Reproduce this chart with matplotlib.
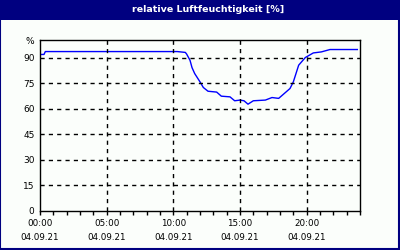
import matplotlib
matplotlib.use('Agg')
import matplotlib.pyplot as plt
from matplotlib.patches import Rectangle

# hours since midnight and humidity readings
hours = [0.0, 0.3, 0.4, 5.0, 10.0, 10.3, 10.9, 11.0, 11.25, 11.4, 11.6, 12.0, 12.25,
         12.6, 13.25, 13.6, 14.25, 14.6, 15.0, 15.3, 15.6, 16.0, 16.9, 17.4, 17.9,
         18.75, 19.0, 19.4, 19.9, 20.5, 21.1, 21.75, 23.8]
humidity = [91.8, 91.8, 93.5, 93.5, 93.5, 93.5, 93.0, 92.0, 88.4, 84.1, 80.6, 75.7, 72.4,
            70.2, 69.7, 67.3, 66.9, 64.6, 65.0, 64.6, 62.6, 64.6, 65.0, 66.5, 66.0,
            71.8, 75.7, 85.5, 90.0, 92.7, 93.3, 94.7, 94.7]

y_ticks = [0, 15, 30, 45, 60, 75, 90, 100]
y_labels = ['0', '15', '30', '45', '60', '75', '90', '%']
x_ticks = [0, 5, 10, 15, 20]
x_labels = ['00:00\n04.09.21', '05:00\n04.09.21', '10:00\n04.09.21',
            '15:00\n04.09.21', '20:00\n04.09.21']
title = 'relative Luftfeuchtigkeit [%]'

navy = '#000080'
bg = '#fbfefb'

fig = plt.figure(figsize=(4, 2.5), dpi=100, facecolor=bg)

# title bar and frame
fig.patches.append(Rectangle((0, 1 - 20 / 250), 1, 20 / 250, transform=fig.transFigure,
                             facecolor=navy, edgecolor='none', zorder=0))
fig.patches.append(Rectangle((0.001, 0.003), 0.996, 0.99, transform=fig.transFigure,
                             facecolor='none', edgecolor=navy, linewidth=1.5, zorder=1))
fig.text(208 / 400, 1 - 10 / 250, title, color='white', fontsize=6.8, fontweight='bold',
         ha='center', va='center', family='DejaVu Sans')

ax = fig.add_axes([0.1, 0.157, 0.8, 0.681])
ax.set_facecolor(bg)
ax.plot(hours, humidity, color='#0000ff', linewidth=1)

ax.set_xlim(0, 24)
ax.set_ylim(0, 100)
ax.set_xticks(x_ticks)
ax.set_xticklabels(x_labels, fontsize=6.3, linespacing=1.75)
ax.set_xticks(range(0, 25), minor=True)
ax.set_yticks(y_ticks)
ax.set_yticklabels(y_labels, fontsize=6.5)

ax.tick_params(axis='x', which='both', direction='out', length=3, width=1, pad=3)
ax.tick_params(axis='y', length=0, pad=4)

for v in x_ticks[1:]:
    ax.axvline(v, color='black', linestyle=(0, (3, 3)), linewidth=1)
for v in y_ticks[1:-1]:
    ax.axhline(v, color='black', linestyle=(0, (3, 3)), linewidth=1)

for s in ax.spines.values():
    s.set_color('black')
    s.set_linewidth(1)

fig.savefig('out.png', dpi=100, facecolor=bg)
